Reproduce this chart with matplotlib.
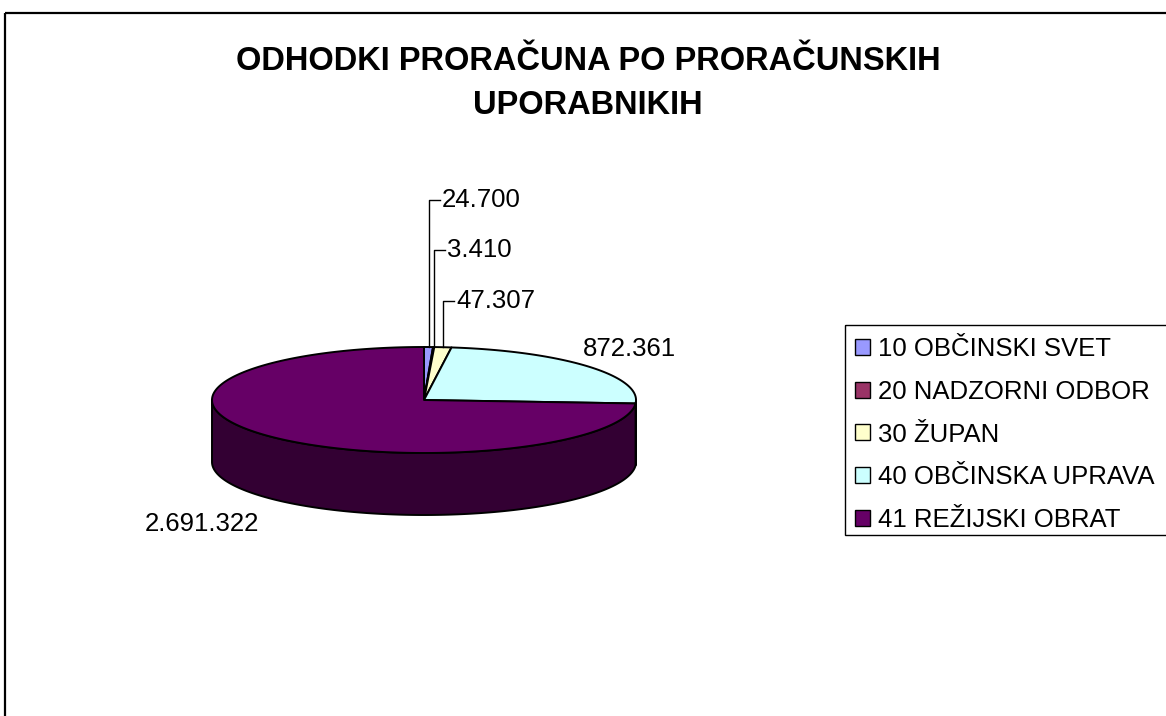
import numpy as np
import matplotlib

matplotlib.use('Agg')
import matplotlib.pyplot as plt
from matplotlib.patches import Polygon, Rectangle, Patch

# podatki
categories = ['10 OBČINSKI SVET', '20 NADZORNI ODBOR', '30 ŽUPAN',
              '40 OBČINSKA UPRAVA', '41 REŽIJSKI OBRAT']
values = [24700, 3410, 47307, 872361, 2691322]
value_labels = ['24.700', '3.410', '47.307', '872.361', '2.691.322']
top_colors = ['#9999FF', '#993366', '#FFFFCC', '#CCFFFF', '#660066']
side_colors = ['#4D4D80', '#4D1A33', '#808066', '#668080', '#330033']

plt.rcParams['font.family'] = ['Liberation Sans', 'DejaVu Sans']

W, H, dpi = 1166, 716, 100
fig = plt.figure(figsize=(W / dpi, H / dpi), dpi=dpi)
ax = fig.add_axes([0, 0, 1, 1])
ax.set_xlim(0, W)
ax.set_ylim(H, 0)
ax.axis('off')

# okvir grafikona
ax.add_patch(Rectangle((5, 13), 1300, 900, fill=False, lw=1.6, ec='black', clip_on=False))

# geometrija 3D torte (piksli)
cx, cy, ra, rb, depth = 424, 400, 212, 53, 62

vals = np.array(values, dtype=float)
cum = np.concatenate([[0], np.cumsum(vals)]) / vals.sum()
t_start = 90 - 360 * cum[:-1]
t_end = 90 - 360 * cum[1:]


def ell(t, dy=0.0):
    r = np.radians(t)
    return np.column_stack([cx + ra * np.cos(r), cy - rb * np.sin(r) + dy])


# stranske ploskve (vidne spredaj)
for i in range(len(vals)):
    hi = min(t_start[i], 0)
    lo = max(t_end[i], -180)
    if lo < hi:
        t = np.linspace(hi, lo, 200)
        pts = np.vstack([ell(t), ell(t[::-1], depth)])
        ax.add_patch(Polygon(pts, closed=True, fc=side_colors[i], ec='black', lw=1.4, joinstyle='round'))

# zgornje ploskve
for i in range(len(vals)):
    t = np.linspace(t_start[i], t_end[i], max(3, int(abs(t_start[i] - t_end[i]) * 3)))
    pts = np.vstack([[cx, cy], ell(t)])
    ax.add_patch(Polygon(pts, closed=True, fc=top_colors[i], ec='black', lw=1.4, joinstyle='round'))

# oznake vrednosti
fs = 18.5
label_y = [200, 250, 301]
for i in range(3):
    tm = (t_start[i] + t_end[i]) / 2
    x0, y0 = ell(np.array([tm]))[0]
    ax.plot([x0, x0, x0 + 11], [y0, label_y[i], label_y[i]], color='black', lw=1.0)
    ax.text(x0 + 13, label_y[i], value_labels[i], fontsize=fs, ha='left', va='center')
ax.text(583, 349, value_labels[3], fontsize=fs, ha='left', va='center')
ax.text(145, 524, value_labels[4], fontsize=fs, ha='left', va='center')

# naslov
ax.text(588, 61, 'ODHODKI PRORAČUNA PO PRORAČUNSKIH', fontsize=23.5, fontweight='bold',
        ha='center', va='center')
ax.text(588, 105, 'UPORABNIKIH', fontsize=23.5, fontweight='bold', ha='center', va='center')

# legenda (okvir sega čez desni rob)
ax.add_patch(Rectangle((845, 325), 400, 210, fill=False, lw=1.0, ec='black', clip_on=False))
handles = [Patch(fc=c, ec='black', lw=1.0) for c in top_colors]
leg = ax.legend(handles, categories, loc='upper left', bbox_to_anchor=(845, 327),
                bbox_transform=ax.transData, fontsize=fs, frameon=False,
                borderpad=0.39, borderaxespad=0,
                handlelength=0.58, handleheight=0.58, handletextpad=0.3, labelspacing=0.73)

fig.savefig('out.png', dpi=dpi)
plt.close(fig)
